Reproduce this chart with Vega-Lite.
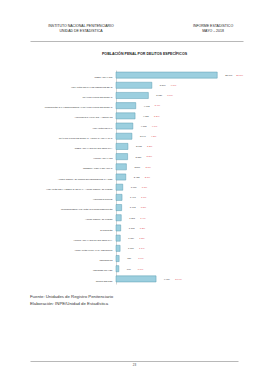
{
  "$schema": "https://vega.github.io/schema/vega-lite/v6.json",
  "background": "white",
  "padding": {"left": 30, "top": 10, "right": 0, "bottom": 0},
  "spacing": 11,
  "config": {"view": {"stroke": null}, "font": "Liberation Sans"},
  "vconcat": [
    {
      "width": 213,
      "height": 31,
      "data": {"values": [
        {"lado": "izquierda", "texto": "INSTITUTO NACIONAL PENITENCIARIO\nUNIDAD DE ESTADÍSTICA"},
        {"lado": "derecha", "texto": "INFORME ESTADÍSTICO\nMAYO – 2018"}
      ]},
      "mark": {"type": "text", "fontSize": 3.5, "lineHeight": 5, "lineBreak": "\n", "baseline": "middle", "color": "#222"},
      "encoding": {
        "x": {"field": "lado", "type": "nominal", "sort": ["izquierda", "derecha"],
          "scale": {"type": "point", "padding": 0.3068, "align": 0.63},
          "axis": {"title": null, "labels": false, "ticks": false, "domainColor": "#9a9a9a", "domainWidth": 0.7}},
        "text": {"field": "texto"}
      }
    },
    {
      "title": {"text": "POBLACIÓN PENAL POR DELITOS ESPECÍFICOS", "fontSize": 3.6, "fontWeight": "bold", "offset": 14, "dx": 11, "anchor": "middle", "color": "#222"},
      "width": 207,
      "height": 214,
      "data": {"values": [
        {"delito": "ROBO AGRAVADO", "internos": 25097, "porcentaje": 0.275},
        {"delito": "VIOLACIÓN SEXUAL DE MENOR DE EDAD", "internos": 8890, "porcentaje": 0.098},
        {"delito": "TRÁFICO ILÍCITO DE DROGAS", "internos": 8020, "porcentaje": 0.088},
        {"delito": "PROMOCIÓN O FAVORECIMIENTO AL TRÁFICO ILÍCITO DE DROGAS", "internos": 4903, "porcentaje": 0.054},
        {"delito": "HOMICIDIO CALIFICADO - ASESINATO", "internos": 4727, "porcentaje": 0.052},
        {"delito": "VIOLACIÓN SEXUAL", "internos": 4175, "porcentaje": 0.046},
        {"delito": "TRÁFICO ILÍCITO DE DROGAS - FORMAS AGRAVADAS", "internos": 3946, "porcentaje": 0.043},
        {"delito": "ROBO AGRAVADO GRADO TENTATIVA", "internos": 2958, "porcentaje": 0.032},
        {"delito": "HURTO AGRAVADO", "internos": 2880, "porcentaje": 0.032},
        {"delito": "TENENCIA ILEGAL DE ARMAS", "internos": 2577, "porcentaje": 0.028},
        {"delito": "ACTOS CONTRA EL PUDOR EN MENORES DE 14 AÑOS", "internos": 2428, "porcentaje": 0.027},
        {"delito": "VIOLACIÓN DE LA LIBERTAD SEXUAL - ACTOS CONTRA EL PUDOR", "internos": 1676, "porcentaje": 0.018},
        {"delito": "HOMICIDIO SIMPLE", "internos": 1497, "porcentaje": 0.016},
        {"delito": "MICROCOMERCIALIZACIÓN O MICROPRODUCCIÓN", "internos": 1403, "porcentaje": 0.015},
        {"delito": "ACTOS CONTRA EL PUDOR", "internos": 1301, "porcentaje": 0.014},
        {"delito": "EXTORSIÓN", "internos": 1168, "porcentaje": 0.013},
        {"delito": "HURTO AGRAVADO GRADO TENTATIVA", "internos": 1054, "porcentaje": 0.012},
        {"delito": "ASOCIACIÓN ILÍCITA PARA DELINQUIR", "internos": 1016, "porcentaje": 0.011},
        {"delito": "SECUESTRO", "internos": 780, "porcentaje": 0.009},
        {"delito": "LESIONES GRAVES", "internos": 706, "porcentaje": 0.008},
        {"delito": "OTROS DELITOS", "internos": 9934, "porcentaje": 0.109}
      ]},
      "encoding": {
        "y": {"field": "delito", "type": "nominal", "sort": null,
          "scale": {"paddingInner": 0.4, "paddingOuter": 0.2},
          "axis": {"title": null, "ticks": false, "offset": -86, "labelFontSize": 2.1, "labelPadding": 4, "labelColor": "#333", "labelLimit": 0, "labelOffset": 1.5, "domainColor": "#aaaaaa", "domainWidth": 0.5}}
      },
      "layer": [
        {
          "mark": {"type": "bar", "fill": "#9ccfdf", "stroke": "#5a9db3", "strokeWidth": 0.5},
          "encoding": {"x": {"field": "internos", "type": "quantitative", "scale": {"domain": [-21324, 30000], "nice": false, "zero": false}, "axis": null}}
        },
        {
          "mark": {"type": "text", "align": "left", "dx": 8, "fontSize": 2.3, "color": "#333"},
          "encoding": {"x": {"field": "internos", "type": "quantitative"}, "text": {"field": "internos", "type": "quantitative", "format": ","}}
        },
        {
          "mark": {"type": "text", "align": "left", "dx": 19, "fontSize": 2.4, "color": "#e0454a"},
          "encoding": {"x": {"field": "internos", "type": "quantitative"}, "text": {"field": "porcentaje", "type": "quantitative", "format": ".1%"}}
        }
      ]
    },
    {
      "title": {"text": ["Fuente: Unidades de Registro Penitenciario", "Elaboración: INPE/Unidad de Estadística"], "anchor": "start", "frame": "group", "fontSize": 4.3, "fontWeight": "normal", "lineHeight": 6.5, "offset": 2, "color": "#333"},
      "width": 208,
      "height": 53,
      "data": {"values": [{"pagina": "23"}]},
      "mark": {"type": "text"},
      "encoding": {
        "x": {"field": "pagina", "type": "nominal", "scale": {"type": "point"},
          "axis": {"title": null, "ticks": false, "labelFontSize": 3, "labelPadding": 2, "labelAngle": 0, "labelColor": "#444", "domainColor": "#999", "domainWidth": 0.7}}
      }
    }
  ]
}
